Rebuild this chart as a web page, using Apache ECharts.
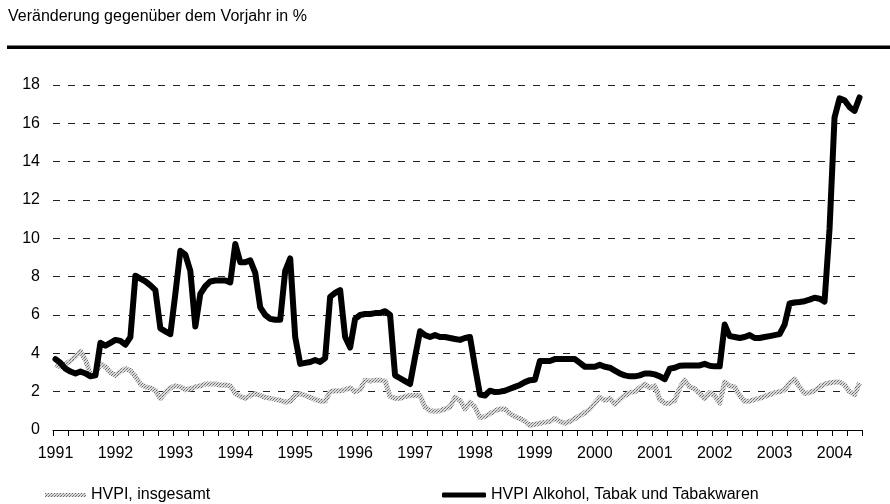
<!DOCTYPE html>
<html>
<head>
<meta charset="utf-8">
<script src="https://cdn.jsdelivr.net/npm/echarts@6/dist/echarts.min.js"></script>
<style>
html,body{margin:0;padding:0;background:#fff;}
#chart{width:890px;height:504px;}
</style>
</head>
<body>
<div id="chart"></div>
<script>
// Monthly data, January 1991 – June 2004
var startYear = 1991;
var monthCount = 162;
var categories = [];
for (var i = 0; i < monthCount; i++) {
  var y = startYear + Math.floor(i / 12);
  var mo = (i % 12) + 1;
  categories.push(y + '-' + (mo < 10 ? '0' + mo : mo));
}

var yTicks = [0, 2, 4, 6, 8, 10, 12, 14, 16, 18];

var seriesNames = ['HVPI, insgesamt', 'HVPI Alkohol, Tabak und Tabakwaren'];

// HVPI, insgesamt (Veränderung gegenüber Vorjahr in %)
var hvpiTotal = [
  3.4, 3.3, 3.45, 3.6, 3.85, 4.1, 3.65, 2.9, 2.95, 3.45, 3.3, 3.0,
  2.85, 3.05, 3.2, 3.1, 2.8, 2.4, 2.25, 2.2, 2.05, 1.65, 1.95, 2.2,
  2.3, 2.25, 2.1, 2.15, 2.25, 2.3, 2.4, 2.4, 2.4, 2.35, 2.35, 2.3,
  1.9, 1.75, 1.65, 1.8, 1.9, 1.8, 1.7, 1.65, 1.6, 1.55, 1.45, 1.5,
  1.8, 1.9, 1.8, 1.7, 1.6, 1.5, 1.5, 2.0, 2.05, 2.05, 2.1, 2.2,
  2.0, 2.1, 2.6, 2.55, 2.6, 2.6, 2.55, 1.75, 1.65, 1.65, 1.75, 1.8,
  1.8, 1.8, 1.2, 1.0, 0.98, 1.0, 1.1, 1.2, 1.7, 1.55, 1.1, 1.45,
  1.2, 0.65, 0.7, 0.85, 1.0, 1.1, 1.1, 0.85, 0.7, 0.6, 0.45, 0.25,
  0.3, 0.35, 0.4, 0.45, 0.6, 0.45, 0.35, 0.45, 0.6, 0.75, 0.9, 1.1,
  1.4, 1.7, 1.55, 1.65, 1.35, 1.6, 1.8, 1.95, 2.0, 2.2, 2.4, 2.2,
  2.3, 1.6, 1.4, 1.4, 1.55, 2.2, 2.6, 2.25, 2.15, 1.9, 1.65, 1.95,
  1.8, 1.4, 2.5, 2.3, 2.25, 1.8, 1.5, 1.5, 1.6, 1.65, 1.75, 1.85,
  1.95, 2.0, 2.1, 2.45, 2.65, 2.25, 1.9, 1.95, 2.05, 2.25, 2.4, 2.45,
  2.5, 2.5, 2.35, 2.0, 1.85, 2.45
];

// HVPI Alkohol, Tabak und Tabakwaren
var hvpiAlcTob = [
  3.7, 3.5, 3.2, 3.05, 2.95, 3.05, 2.95, 2.8, 2.85, 4.55, 4.4, 4.55,
  4.7, 4.65, 4.45, 4.85, 8.05, 7.9, 7.75, 7.55, 7.3, 5.3, 5.15, 5.0,
  7.1, 9.35, 9.15, 8.3, 5.4, 7.1, 7.5, 7.75, 7.8, 7.8, 7.8, 7.7,
  9.7, 8.75, 8.75, 8.85, 8.2, 6.4, 6.0, 5.8, 5.75, 5.75, 8.3, 8.95,
  4.85, 3.45, 3.5, 3.55, 3.65, 3.55, 3.75, 6.95, 7.15, 7.3, 4.85, 4.3,
  5.8, 6.0, 6.05, 6.05, 6.1, 6.1, 6.2, 6.0, 2.85, 2.7, 2.55, 2.4,
  3.8, 5.15, 4.95, 4.85, 4.95, 4.85, 4.85, 4.8, 4.75, 4.7, 4.8, 4.85,
  3.3, 1.85, 1.8, 2.05, 1.98, 2.0, 2.05, 2.15, 2.25, 2.35, 2.5, 2.6,
  2.62, 3.6, 3.6, 3.6, 3.7, 3.7, 3.7, 3.7, 3.7, 3.5, 3.3, 3.3,
  3.3, 3.4, 3.3, 3.25, 3.1, 2.95, 2.85, 2.8, 2.8, 2.85, 2.95, 2.95,
  2.9, 2.8, 2.65, 3.2, 3.25, 3.35, 3.37, 3.37, 3.37, 3.37, 3.45, 3.35,
  3.32, 3.32, 5.5, 4.9, 4.85, 4.8, 4.85, 4.95, 4.8, 4.8, 4.85, 4.9,
  4.95, 5.0, 5.5, 6.6, 6.65, 6.68, 6.72, 6.8, 6.9, 6.85, 6.7, 10.5,
  16.3, 17.3, 17.2, 16.85, 16.65, 17.35
];

// stippled pattern for the overall HVPI line
var pc = document.createElement('canvas');
pc.width = 3; pc.height = 3;
var ctx = pc.getContext('2d');
ctx.fillStyle = '#dadada';
ctx.fillRect(0, 0, 3, 3);
ctx.fillStyle = '#6e6e6e';
ctx.fillRect(0, 0, 1, 1);
ctx.fillRect(1, 2, 1, 1);
ctx.fillStyle = '#9a9a9a';
ctx.fillRect(2, 1, 1, 1);
var stipple = { image: pc, repeat: 'repeat' };

var FONT = '"Liberation Sans", Arial, sans-serif';

var chart = echarts.init(document.getElementById('chart'), null, { renderer: 'canvas' });
chart.setOption({
  animation: false,
  backgroundColor: '#fff',
  title: {
    text: 'Veränderung gegenüber dem Vorjahr in %',
    left: 3,
    top: 4,
    textStyle: { fontFamily: FONT, fontSize: 16, fontWeight: 'normal', color: '#000' }
  },
  graphic: [{
    type: 'rect',
    shape: { x: 7, y: 45.5, width: 883, height: 3.5 },
    style: { fill: '#000' },
    silent: true
  }],
  grid: { left: 53, right: 28, top: 85, bottom: 74, containLabel: false },
  legend: [{
    left: 40,
    top: 482,
    itemWidth: 41,
    itemHeight: 4,
    icon: 'rect',
    textStyle: { fontFamily: FONT, fontSize: 16, color: '#000' },
    data: [{ name: seriesNames[0], icon: 'rect', itemStyle: { color: stipple } }]
  }, {
    left: 437,
    top: 482,
    itemWidth: 44,
    itemHeight: 5,
    textStyle: { fontFamily: FONT, fontSize: 16, color: '#000' },
    data: [{ name: seriesNames[1], icon: 'roundRect', itemStyle: { color: '#000' } }]
  }],
  xAxis: {
    type: 'category',
    data: categories,
    boundaryGap: true,
    axisLine: { show: true, lineStyle: { color: '#000', width: 1 } },
    axisTick: { show: true, interval: 2, length: 6, lineStyle: { color: '#000' } },
    axisLabel: {
      interval: 11,
      margin: 16,
      fontFamily: FONT,
      fontSize: 16,
      color: '#000',
      formatter: function (v) { return v.slice(0, 4); }
    },
    splitLine: { show: false }
  },
  yAxis: {
    type: 'value',
    min: yTicks[0],
    max: yTicks[yTicks.length - 1],
    interval: 2,
    axisLine: { show: false },
    axisTick: { show: false },
    axisLabel: { margin: 13, fontFamily: FONT, fontSize: 16, color: '#000' },
    splitLine: { show: true, lineStyle: { color: '#222', width: 1, type: [7, 8] } }
  },
  series: [{
    name: seriesNames[0],
    type: 'line',
    data: hvpiTotal,
    symbol: 'none',
    z: 2,
    itemStyle: { color: stipple },
    lineStyle: { color: stipple, width: 5, join: 'round' }
  }, {
    name: seriesNames[1],
    type: 'line',
    data: hvpiAlcTob,
    symbol: 'none',
    z: 3,
    itemStyle: { color: '#000' },
    lineStyle: { color: '#000', width: 6, join: 'round', cap: 'round' }
  }]
});
</script>
</body>
</html>
